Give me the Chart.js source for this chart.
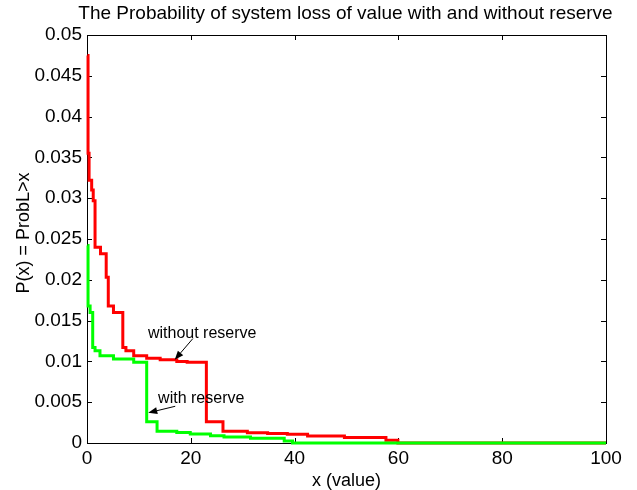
<!DOCTYPE html>
<html>
<head>
<meta charset="utf-8">
<script src="https://cdn.jsdelivr.net/npm/chart.js@4"></script>
<style>
  html, body { margin: 0; padding: 0; background: #fff; }
  #wrap { width: 637px; height: 490px; }
</style>
</head>
<body>
<div id="wrap"><canvas id="lossChart"></canvas></div>
<script>
// axis ticks
const xTicks = [0, 20, 40, 60, 80, 100];
const yTicks = [0, 0.005, 0.01, 0.015, 0.02, 0.025, 0.03, 0.035, 0.04, 0.045, 0.05];
const yTickLabels = ['0', '0.005', '0.01', '0.015', '0.02', '0.025', '0.03', '0.035', '0.04', '0.045', '0.05'];

// without reserve (red), step values start at each x
const withoutX = [0.1, 0.2, 0.4, 0.9, 1.2, 1.55, 2.6, 3.7, 4.1, 5.1, 6.9, 7.5, 9.0, 11.5, 14.1, 17.3, 19.3, 23.0, 26.2, 30.9, 34.8, 38.6, 42.5, 49.6, 57.6, 59.9, 100];
const withoutP = [0.0475, 0.0355, 0.0322, 0.0310, 0.0297, 0.0240, 0.0232, 0.0203, 0.0168, 0.0160, 0.0117, 0.0113, 0.0107, 0.0104, 0.0102, 0.0100, 0.0099, 0.0026, 0.00145, 0.00126, 0.00115, 0.00107, 0.00086, 0.00066, 0.00033, 0, 0];

// with reserve (green)
const withX = [0.1, 0.2, 0.6, 1.1, 1.55, 2.5, 5.1, 9.0, 11.5, 13.5, 17.3, 19.9, 23.8, 26.4, 31.5, 38.0, 39.6, 100];
const withP = [0.0242, 0.0168, 0.0160, 0.0117, 0.0113, 0.0107, 0.0103, 0.0099, 0.0026, 0.00145, 0.0013, 0.0011, 0.0009, 0.00074, 0.00057, 0.00025, 0, 0];

const FONT = 'Liberation Sans, Arial, Helvetica, sans-serif';

function toPoints(xs, ys) {
    return xs.map((x, i) => ({ x: x, y: ys[i] }));
}

function drawArrow(ctx, x1, y1, x2, y2) {
    const ang = Math.atan2(y2 - y1, x2 - x1);
    const len = 9, half = 3.5;
    ctx.beginPath();
    ctx.moveTo(x1, y1);
    ctx.lineTo(x2 - Math.cos(ang) * len, y2 - Math.sin(ang) * len);
    ctx.stroke();
    ctx.beginPath();
    ctx.moveTo(x2, y2);
    ctx.lineTo(x2 - Math.cos(ang) * len - Math.sin(ang) * half, y2 - Math.sin(ang) * len + Math.cos(ang) * half);
    ctx.lineTo(x2 - Math.cos(ang) * len + Math.sin(ang) * half, y2 - Math.sin(ang) * len - Math.cos(ang) * half);
    ctx.closePath();
    ctx.fill();
}

// matlab style box, inward ticks, titles
const matlabFrame = {
    id: 'matlabFrame',
    beforeDatasetsDraw(chart) {
        const { ctx, chartArea: a, scales: { x, y } } = chart;
        ctx.save();
        ctx.strokeStyle = '#000';
        ctx.lineWidth = 1;
        ctx.strokeRect(a.left + 0.5, a.top + 0.5, a.right - a.left, a.bottom - a.top);
        ctx.beginPath();
        xTicks.forEach(v => {
            const px = Math.round(x.getPixelForValue(v)) + 0.5;
            ctx.moveTo(px, a.bottom); ctx.lineTo(px, a.bottom - 5);
            ctx.moveTo(px, a.top); ctx.lineTo(px, a.top + 5);
        });
        yTicks.forEach(v => {
            const py = Math.round(y.getPixelForValue(v)) + 0.5;
            ctx.moveTo(a.left, py); ctx.lineTo(a.left + 5, py);
            ctx.moveTo(a.right, py); ctx.lineTo(a.right - 5, py);
        });
        ctx.stroke();
        ctx.restore();
    },
    afterDraw(chart) {
        const { ctx, chartArea: a, scales: { x, y } } = chart;
        ctx.save();
        ctx.fillStyle = '#000';
        ctx.strokeStyle = '#000';
        ctx.textBaseline = 'middle';
        ctx.textAlign = 'center';

        ctx.font = '19px ' + FONT;
        ctx.fillText('The Probability of system loss of value with and without reserve', (a.left + a.right) / 2 - 1, 14);
        ctx.font = '18px ' + FONT;
        ctx.fillText('x (value)', (a.left + a.right) / 2, 481);

        ctx.save();
        ctx.translate(24, 233);
        ctx.rotate(-Math.PI / 2);
        ctx.fillText('P(x) = ProbL>x', 0, 0);
        ctx.restore();

        // annotations
        ctx.font = '16px ' + FONT;
        ctx.textAlign = 'left';
        ctx.fillText('without reserve', x.getPixelForValue(11.75), y.getPixelForValue(0.0134));
        ctx.fillText('with reserve', x.getPixelForValue(13.7), y.getPixelForValue(0.0054));
        ctx.lineWidth = 1;
        drawArrow(ctx, x.getPixelForValue(20.4), y.getPixelForValue(0.0128),
                       x.getPixelForValue(16.9), y.getPixelForValue(0.0102));
        drawArrow(ctx, x.getPixelForValue(17.0), y.getPixelForValue(0.0045),
                       x.getPixelForValue(11.8), y.getPixelForValue(0.0037));
        ctx.restore();
    }
};

const ctx = document.getElementById('lossChart').getContext('2d');

const chart = new Chart(ctx, {
    type: 'line',
    data: {
        datasets: [{
            label: 'with reserve',
            data: toPoints(withX, withP),
            borderColor: '#00ff00',
            borderWidth: 3,
            pointRadius: 0,
            stepped: 'before',
            clip: false,
            order: 0
        }, {
            label: 'without reserve',
            data: toPoints(withoutX, withoutP),
            borderColor: '#ff0000',
            borderWidth: 3,
            pointRadius: 0,
            stepped: 'before',
            clip: false,
            order: 1
        }]
    },
    options: {
        animation: false,
        responsive: true,
        maintainAspectRatio: false,
        layout: { padding: { top: 35, right: 31, left: 0, bottom: 0 } },
        plugins: {
            legend: { display: false },
            title: { display: false },
            tooltip: { enabled: false }
        },
        scales: {
            x: {
                type: 'linear',
                min: 0,
                max: 100,
                afterBuildTicks: (scale) => { scale.ticks = xTicks.map(v => ({ value: v })); },
                afterFit: (scale) => { scale.height = 47; },
                grid: { display: false, drawTicks: false },
                border: { display: false },
                ticks: {
                    color: '#000',
                    padding: 4,
                    font: { family: FONT, size: 19 }
                }
            },
            y: {
                min: 0,
                max: 0.05,
                afterBuildTicks: (scale) => { scale.ticks = yTicks.map(v => ({ value: v })); },
                afterFit: (scale) => { scale.width = 87; },
                grid: { display: false, drawTicks: false },
                border: { display: false },
                ticks: {
                    color: '#000',
                    padding: 5,
                    font: { family: FONT, size: 19 },
                    callback: (v, i) => yTickLabels[i]
                }
            }
        }
    },
    plugins: [matlabFrame]
});
</script>
</body>
</html>
